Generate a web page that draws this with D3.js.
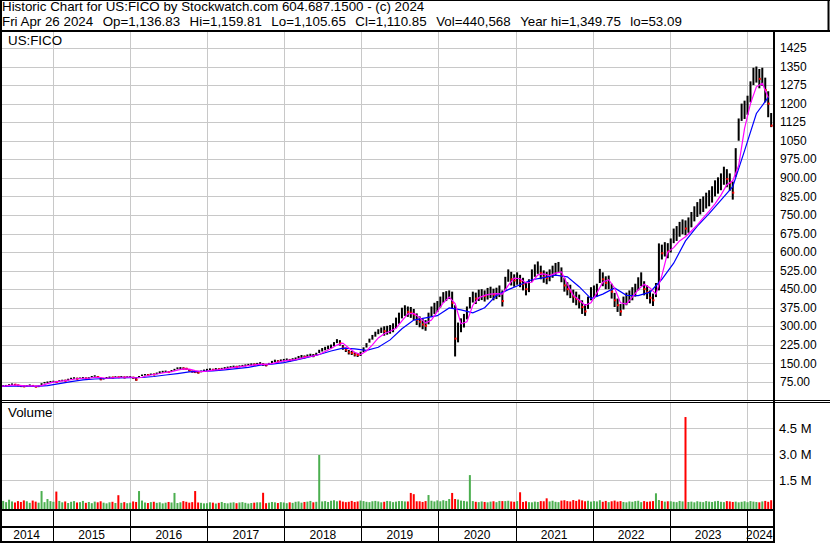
<!DOCTYPE html>
<html>
<head>
<meta charset="utf-8">
<script src="https://cdn.jsdelivr.net/npm/d3@7"></script>
<style>
  body { margin: 0; background: #fff; }
  svg { display: block; font-family: "Liberation Sans", Arial, sans-serif; }
</style>
</head>
<body>
<div id="chart"></div>
<script>
// Bi-weekly bars, first one on 2014-04-25, last on 2024-04-26
const closes = [
  58, 59, 60, 63, 66, 64, 61, 58, 57, 59,
  62, 59, 56, 57, 66, 72, 74, 76, 77, 75,
  79, 81, 80, 84, 89, 91, 88, 90, 92, 89,
  91, 96, 99, 95, 86, 88, 92, 94, 93, 95,
  94, 96, 93, 95, 96, 92, 84, 96, 102, 104,
  103, 106, 105, 109, 114, 116, 117, 115, 119, 124,
  130, 131, 129, 128, 122, 117, 115, 113, 118, 121,
  124, 126, 124, 127, 126, 128, 131, 133, 135, 137,
  136, 138, 140, 142, 144, 146, 145, 148, 150, 145,
  143, 148, 155, 160, 158, 161, 163, 165, 162, 166,
  168, 175, 178, 176, 180, 183, 181, 186, 198, 205,
  210, 214, 218, 228, 240, 232, 214, 205, 195, 192,
  186, 184, 188, 205, 222, 242, 255, 268, 278, 283,
  280, 283, 286, 292, 310, 330, 352, 361, 358, 355,
  348, 326, 318, 307, 302, 330, 358, 370, 378, 398,
  415, 422, 430, 395, 250, 270, 300, 318, 352, 395,
  418, 412, 425, 428, 422, 430, 436, 428, 432, 440,
  402, 470, 505, 490, 485, 492, 482, 470, 450, 462,
  505, 525, 538, 515, 500, 495, 505, 520, 532, 545,
  505, 465, 450, 440, 420, 410, 400, 378, 360, 395,
  430, 438, 445, 505, 490, 475, 478, 440, 405, 385,
  360, 395, 410, 418, 430, 445, 470, 490, 450, 438,
  415, 405, 445, 600, 595, 610, 602, 625, 665, 672,
  690, 700, 695, 705, 728, 752, 770, 782, 790, 805,
  815, 830, 855, 865, 880, 905, 895, 880, 840, 960,
  1100, 1165, 1172, 1190, 1245, 1310, 1320, 1300, 1310, 1255,
  1200, 1111
];
const highs = [
  61, 62, 63, 66, 69, 67, 64, 61, 60, 62,
  65, 62, 59, 61, 70, 75, 77, 79, 80, 79,
  82, 84, 84, 88, 92, 94, 92, 93, 95, 93,
  94, 99, 102, 99, 92, 91, 95, 97, 96, 98,
  97, 99, 97, 98, 99, 96, 92, 99, 105, 107,
  107, 109, 109, 113, 118, 120, 121, 119, 123, 128,
  134, 135, 134, 132, 127, 121, 119, 117, 121, 125,
  128, 130, 128, 131, 130, 132, 135, 137, 139, 141,
  140, 142, 144, 146, 148, 150, 150, 152, 155, 151,
  148, 152, 160, 165, 163, 166, 168, 170, 168, 171,
  174, 180, 184, 182, 186, 189, 188, 193, 205, 212,
  217, 222, 226, 236, 248, 244, 224, 214, 204, 200,
  195, 192, 197, 215, 232, 250, 265, 278, 288, 295,
  300, 302, 305, 312, 335, 355, 375, 385, 380, 378,
  370, 352, 340, 330, 325, 355, 380, 395, 402, 420,
  438, 442, 445, 440, 385, 315, 332, 350, 380, 418,
  440, 436, 448, 450, 445, 455, 460, 452, 456, 465,
  445, 500, 530, 520, 510, 518, 508, 496, 476, 490,
  530, 550, 562, 545, 526, 520, 530, 545, 556, 560,
  538, 495, 478, 468, 448, 440, 428, 405, 390, 420,
  458, 465, 472, 532, 518, 502, 505, 472, 435, 412,
  390, 420, 436, 445, 458, 472, 498, 518, 482, 465,
  445, 432, 475, 635, 630, 640, 636, 655, 695, 705,
  722, 732, 728, 740, 762, 785, 802, 815, 825, 840,
  850, 866, 890, 902, 918, 945, 935, 918, 885, 1020,
  1140, 1200, 1212, 1232, 1290, 1345, 1350, 1340, 1345, 1305,
  1250, 1162
];
const lows = [
  55, 56, 57, 60, 63, 61, 58, 55, 54, 56,
  59, 56, 53, 54, 63, 69, 71, 73, 74, 72,
  76, 78, 77, 81, 86, 88, 85, 87, 89, 86,
  88, 93, 96, 91, 82, 85, 89, 91, 90, 92,
  91, 93, 90, 92, 93, 88, 80, 92, 99, 101,
  100, 103, 102, 106, 110, 112, 113, 111, 115, 120,
  126, 127, 125, 124, 117, 113, 111, 109, 114, 117,
  120, 122, 120, 123, 122, 124, 127, 129, 131, 133,
  132, 134, 136, 138, 140, 142, 141, 144, 146, 140,
  138, 144, 150, 155, 153, 156, 158, 160, 157, 161,
  163, 169, 172, 170, 174, 177, 175, 180, 192, 198,
  203, 207, 211, 220, 232, 222, 205, 196, 186, 184,
  178, 176, 180, 196, 214, 234, 246, 258, 268, 273,
  262, 266, 270, 276, 292, 310, 332, 342, 338, 334,
  325, 305, 296, 288, 282, 308, 338, 350, 358, 376,
  395, 402, 410, 372, 178, 235, 276, 295, 328, 372,
  396, 390, 402, 406, 400, 408, 414, 405, 410, 418,
  380, 445, 480, 465, 460, 468, 458, 445, 425, 438,
  480, 500, 512, 490, 476, 470, 482, 496, 508, 520,
  478, 440, 425, 414, 395, 385, 372, 350, 342, 370,
  405, 412, 420, 475, 462, 450, 450, 412, 378, 358,
  342, 368, 385, 394, 405, 420, 445, 462, 425, 410,
  392, 382, 418, 445, 570, 582, 575, 598, 636, 645,
  662, 672, 668, 678, 700, 724, 742, 752, 762, 776,
  785, 800, 825, 836, 850, 872, 862, 848, 812, 905,
  1050, 1130, 1138, 1155, 1205, 1275, 1285, 1262, 1272, 1205,
  1145, 1105
];
// volume in thousands of shares, one per bar
const volumes = [
  260, 310, 240, 380, 280, 220, 300, 250, 340, 290,
  200, 330, 270, 210, 880, 240, 420, 300, 260, 850,
  310, 230, 280, 190, 260, 300, 220, 240, 310, 200,
  250, 180, 270, 230, 290, 210, 170, 230, 260, 190,
  640, 200, 240, 180, 210, 280, 250, 880, 330, 220,
  190, 240, 260, 200, 230, 170, 210, 250, 220, 770,
  190, 230, 300, 260, 210, 240, 880, 220, 200, 170,
  180, 230, 210, 160, 200, 250, 190, 170, 210, 230,
  180, 220, 240, 200, 160, 190, 210, 230, 230, 780,
  180, 210, 250, 230, 190, 240, 220, 180, 230, 200,
  260, 280, 210, 250, 270, 310, 230, 260, 2960, 280,
  300, 250, 320, 350, 290, 330, 270, 240, 260, 310,
  250, 280, 330, 300, 260, 240, 290, 310, 280, 230,
  260, 310, 290, 240, 270, 300, 300, 280, 280, 770,
  700, 290, 290, 250, 300, 650, 320, 280, 340, 290,
  350, 310, 420, 770, 420, 390, 330, 310, 280, 1800,
  300, 260, 240, 280, 250, 230, 270, 290, 240, 310,
  300, 300, 320, 280, 260, 300, 810, 250, 290, 240,
  230, 270, 250, 300, 290, 460, 280, 320, 260, 240,
  330, 350, 300, 280, 360, 310, 390, 340, 290, 320,
  270, 300, 280, 350, 260, 310, 240, 290, 330, 270,
  300, 250, 230, 280, 260, 300, 320, 240, 300, 260,
  280, 300, 750, 360, 310, 270, 290, 290, 260, 240,
  310, 280, 5150, 250, 270, 230, 290, 260, 240, 300,
  270, 250, 290, 310, 260, 240, 300, 280, 250, 270,
  230, 260, 290, 240, 300, 270, 250, 230, 280, 310,
  260, 350
];
// short moving average (magenta), read at every 2nd bar
const maShort = [
  58, 59, 62, 62, 59, 59, 58, 60, 68, 74,
  77, 80, 84, 88, 90, 90, 94, 93, 90, 92,
  94, 94, 95, 91, 94, 101, 105, 109, 114, 117,
  123, 128, 127, 121, 117, 119, 123, 125, 128, 132,
  135, 138, 141, 144, 147, 146, 149, 155, 160, 163,
  165, 171, 176, 180, 186, 198, 210, 224, 232, 212,
  195, 186, 200, 225, 253, 270, 280, 292, 322, 350,
  352, 335, 313, 325, 360, 395, 418, 392, 310, 318,
  385, 415, 425, 430, 432, 430, 465, 495, 492, 475,
  478, 508, 512, 505, 515, 520, 470, 425, 406, 385,
  395, 435, 478, 488, 455, 395, 390, 418, 448, 470,
  455, 430, 505, 600, 618, 645, 662, 685, 710, 738,
  765, 795, 830, 872, 888, 950, 1100, 1200, 1268, 1282,
  1225
];
// long moving average (blue), read at every 4th bar
const maLong = [
  57, 58, 58, 57, 60, 68, 76, 83, 87, 89,
  91, 92, 93, 97, 103, 109, 116, 118, 120, 124,
  129, 134, 143, 147, 153, 163, 174, 186, 200, 212,
  209, 203, 215, 245, 290, 325, 334, 343, 374, 366,
  354, 375, 425, 448, 468, 488, 497, 507, 500, 460,
  412, 430, 455, 425, 424, 438, 490, 555, 645, 705,
  755, 810, 864, 1010, 1160, 1225
];

const priceTicks = [75, 150, 225, 300, 375, 450, 525, 600, 675, 750, 825, 900,
  975, 1050, 1125, 1200, 1275, 1350, 1425];
const volTicks = [1500, 3000, 4500];
const volTickLabels = ["1.5 M", "3.0 M", "4.5 M"];

const titleText = "Historic Chart for US:FICO by Stockwatch.com 604.687.1500 - (c) 2024";
const quoteFields = ["Fri Apr 26 2024", "Op=1,136.83", "Hi=1,159.81", "Lo=1,105.65",
  "Cl=1,110.85", "Vol=440,568", "Year hi=1,349.75", "lo=53.09"];

const W = 830, H = 543;
const plotLeft = 0, plotRight = 773;
const priceTop = 32, priceBottom = 400;
const volTop = 403, volBottom = 509;
const headFont = 13.33;

const firstBar = new Date(2014, 3, 25);
const barDates = closes.map((d, i) => d3.timeDay.offset(firstBar, 14 * i));

const x = d3.scaleTime()
  .domain([new Date(2014, 3, 24), new Date(2024, 3, 30)])
  .range([plotLeft, 772]);
const y = d3.scaleLinear().domain([0, 1500]).range([400.5, 29.4]);
const yv = d3.scaleLinear().domain([0, 4500]).range([506.3, 428.3]);

const svg = d3.select("#chart").append("svg")
  .attr("width", W).attr("height", H);

svg.append("rect").attr("width", W).attr("height", H).attr("fill", "#fff");

const defs = svg.append("defs");
defs.append("clipPath").attr("id", "clipPrice").append("rect")
  .attr("x", 2).attr("y", priceTop).attr("width", plotRight - 2).attr("height", priceBottom - priceTop);
defs.append("clipPath").attr("id", "clipVol").append("rect")
  .attr("x", 2).attr("y", volTop).attr("width", plotRight - 2).attr("height", volBottom - volTop + 1);

const yearStarts = d3.timeYear.range(new Date(2015, 0, 1), new Date(2024, 0, 2));
const grid = "#c8c8c8";

// price panel grid
const gp = svg.append("g");
gp.selectAll("line.h").data(priceTicks).enter().append("line")
  .attr("x1", 2).attr("x2", plotRight)
  .attr("y1", d => Math.round(y(d)) + 0.5).attr("y2", d => Math.round(y(d)) + 0.5)
  .attr("stroke", grid).attr("stroke-width", 1);
gp.selectAll("line.v").data(yearStarts).enter().append("line")
  .attr("x1", d => Math.round(x(d)) + 0.5).attr("x2", d => Math.round(x(d)) + 0.5)
  .attr("y1", priceTop).attr("y2", priceBottom)
  .attr("stroke", grid).attr("stroke-width", 1);

// volume panel grid
const gv = svg.append("g");
gv.selectAll("line.h").data(volTicks).enter().append("line")
  .attr("x1", 2).attr("x2", plotRight)
  .attr("y1", d => Math.round(yv(d)) + 0.5).attr("y2", d => Math.round(yv(d)) + 0.5)
  .attr("stroke", grid).attr("stroke-width", 1);
gv.selectAll("line.v").data(yearStarts).enter().append("line")
  .attr("x1", d => Math.round(x(d)) + 0.5).attr("x2", d => Math.round(x(d)) + 0.5)
  .attr("y1", volTop).attr("y2", volBottom)
  .attr("stroke", grid).attr("stroke-width", 1);

// price bars (high-low), red mark at the close of down bars
const bars = svg.append("g").attr("clip-path", "url(#clipPrice)");
bars.selectAll("rect.bar").data(closes).enter().append("rect")
  .attr("class", "bar")
  .attr("x", (d, i) => x(barDates[i]) - 1)
  .attr("width", 2)
  .attr("y", (d, i) => y(highs[i]))
  .attr("height", (d, i) => Math.max(1.5, y(lows[i]) - y(highs[i])))
  .attr("fill", "#000");
const downIdx = d3.range(1, closes.length).filter(i => closes[i] < closes[i - 1]);
bars.selectAll("rect.close").data(downIdx).enter().append("rect")
  .attr("class", "close")
  .attr("x", i => x(barDates[i]) - 0.5)
  .attr("y", i => y(closes[i]) - 1)
  .attr("width", 2).attr("height", 2)
  .attr("fill", "#f00");

// moving averages
const lineGen = d3.line().x(d => x(d[0])).y(d => y(d[1]));
const shortPts = maShort.map((v, k) => [barDates[2 * k], v]);
const longPts = maLong.map((v, k) => [barDates[4 * k], v]);
bars.append("path").datum(longPts).attr("d", lineGen)
  .attr("fill", "none").attr("stroke", "#0000ff").attr("stroke-width", 1.2);
bars.append("path").datum(shortPts).attr("d", lineGen)
  .attr("fill", "none").attr("stroke", "#ff00ff").attr("stroke-width", 1.2);

// volume bars
const vb = svg.append("g").attr("clip-path", "url(#clipVol)");
vb.selectAll("rect").data(volumes).enter().append("rect")
  .attr("x", (d, i) => x(barDates[i]) - 1)
  .attr("width", 2)
  .attr("y", d => yv(d))
  .attr("height", d => volBottom + 1 - yv(d))
  .attr("fill", (d, i) => {
    if (i === 0 || closes[i] === closes[i - 1]) return "#a0a0a0";
    return closes[i] > closes[i - 1] ? "#4caf50" : "#ff0000";
  });

// frame lines
function hline(x1, x2, yy, w) {
  svg.append("line").attr("x1", x1).attr("x2", x2).attr("y1", yy).attr("y2", yy)
    .attr("stroke", "#000").attr("stroke-width", w);
}
function vline(xx, y1, y2, w) {
  svg.append("line").attr("x1", xx).attr("x2", xx).attr("y1", y1).attr("y2", y2)
    .attr("stroke", "#000").attr("stroke-width", w);
}
hline(0, 830, 0.5, 1);
hline(0, 830, 31, 2);
vline(1, 0, 543, 2);
vline(828.5, 0, 31, 2);
vline(774, 31, 543, 2);
hline(0, 830, 400.5, 1);
hline(0, 830, 402.5, 1);
hline(0, 774, 510, 2);
hline(0, 774, 527, 2);
hline(0, 774, 542, 2);

// year separators in the date strip
svg.append("g").selectAll("line").data(yearStarts).enter().append("line")
  .attr("x1", d => Math.round(x(d)) + 0.5).attr("x2", d => Math.round(x(d)) + 0.5)
  .attr("y1", 510).attr("y2", 542)
  .attr("stroke", "#000").attr("stroke-width", 1);

// year labels centred in their cells
const cellEdges = [x.domain()[0], ...yearStarts, x.domain()[1]];
const yearCells = d3.range(cellEdges.length - 1).map(k => ({
  label: d3.timeFormat("%Y")(cellEdges[k]),
  cx: (x(cellEdges[k]) + Math.min(x(cellEdges[k + 1]), plotRight)) / 2
}));
svg.append("g").selectAll("text").data(yearCells).enter().append("text")
  .attr("x", d => d.cx).attr("y", 539)
  .attr("text-anchor", "middle").attr("font-size", 12).attr("fill", "#000")
  .text(d => d.label);

// axis labels
const fmtPrice = v => v >= 1000 ? d3.format("d")(v) : d3.format(".2f")(v);
svg.append("g").selectAll("text").data(priceTicks).enter().append("text")
  .attr("x", 780).attr("y", d => y(d)).attr("dy", "0.35em")
  .attr("font-size", 12).attr("fill", "#000")
  .text(fmtPrice);
svg.append("g").selectAll("text").data(volTicks).enter().append("text")
  .attr("x", 779).attr("y", d => yv(d)).attr("dy", "0.35em")
  .attr("font-size", 13).attr("fill", "#000")
  .text((d, i) => volTickLabels[i]);

// header: title line, then quote fields laid out one after another
svg.append("text").attr("x", 2).attr("y", 10.5).attr("font-size", headFont).text(titleText);
const fieldGap = 9.5;
let cursor = 2;
quoteFields.forEach(f => {
  const t = svg.append("text").attr("x", cursor).attr("y", 25.5)
    .attr("font-size", headFont).text(f);
  cursor += t.node().getComputedTextLength() + fieldGap;
});
svg.append("text").attr("x", 8).attr("y", 45).attr("font-size", headFont).text("US:FICO");
svg.append("text").attr("x", 8).attr("y", 417).attr("font-size", headFont).text("Volume");
</script>
</body>
</html>
